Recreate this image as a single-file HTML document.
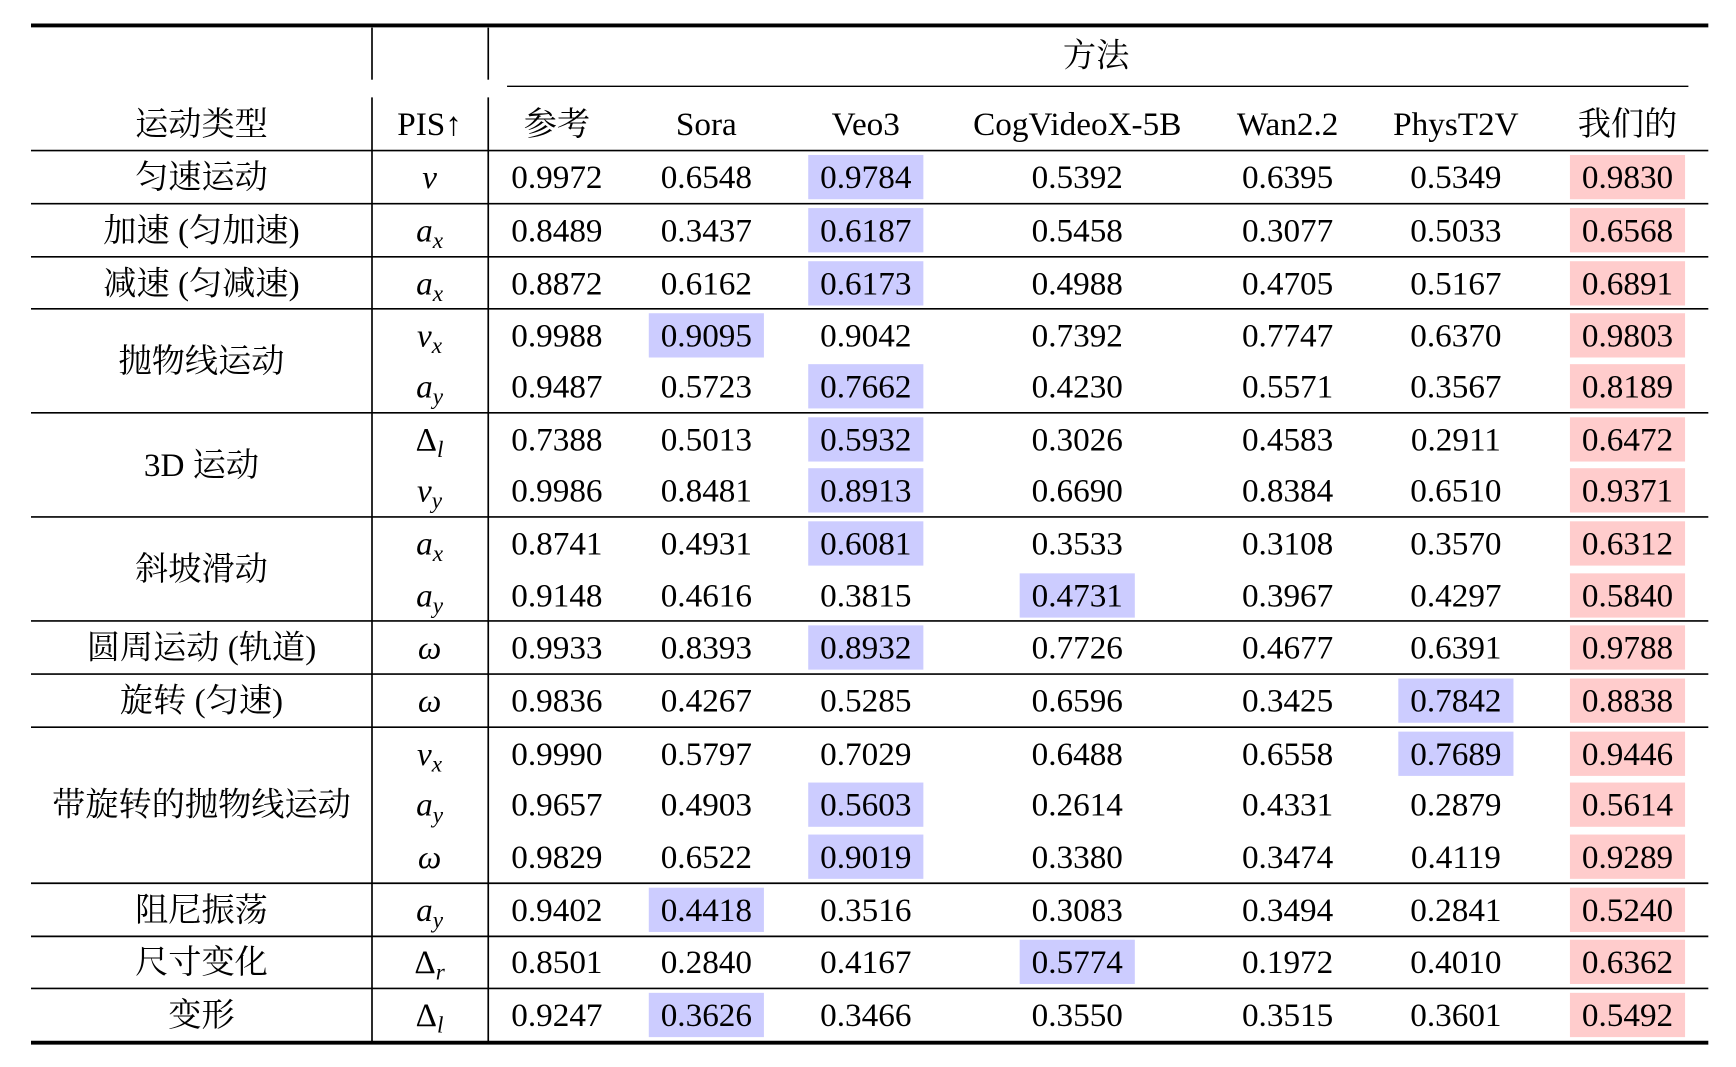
<!DOCTYPE html>
<html><head><meta charset="utf-8"><style>
html,body{margin:0;padding:0;background:#fff;}
svg{display:block;}
text{font-family:"Liberation Serif","Noto Serif CJK SC","Noto Sans CJK SC",serif;font-size:30px;fill:#000;}
.i{font-style:italic;}
.s{font-style:italic;font-size:21px;}
</style></head><body>
<svg width="1736" height="1067" viewBox="0 0 1568 964" preserveAspectRatio="none" xmlns="http://www.w3.org/2000/svg">
<g fill="#ccccff">
<rect x="730" y="140" width="104" height="40"/>
<rect x="730" y="188" width="104" height="40"/>
<rect x="730" y="236" width="104" height="40"/>
<rect x="586" y="283" width="104" height="40"/>
<rect x="730" y="329" width="104" height="40"/>
<rect x="730" y="377" width="104" height="40"/>
<rect x="730" y="423" width="104" height="40"/>
<rect x="730" y="471" width="104" height="40"/>
<rect x="921" y="518" width="104" height="40"/>
<rect x="730" y="565" width="104" height="40"/>
<rect x="1263" y="613" width="104" height="40"/>
<rect x="1263" y="661" width="104" height="40"/>
<rect x="730" y="707" width="104" height="40"/>
<rect x="730" y="754" width="104" height="40"/>
<rect x="586" y="802" width="104" height="40"/>
<rect x="921" y="849" width="104" height="40"/>
<rect x="586" y="897" width="104" height="40"/>
</g>
<g fill="#ffcccc">
<rect x="1418" y="140" width="104" height="40"/>
<rect x="1418" y="188" width="104" height="40"/>
<rect x="1418" y="236" width="104" height="40"/>
<rect x="1418" y="283" width="104" height="40"/>
<rect x="1418" y="329" width="104" height="40"/>
<rect x="1418" y="377" width="104" height="40"/>
<rect x="1418" y="423" width="104" height="40"/>
<rect x="1418" y="471" width="104" height="40"/>
<rect x="1418" y="518" width="104" height="40"/>
<rect x="1418" y="565" width="104" height="40"/>
<rect x="1418" y="613" width="104" height="40"/>
<rect x="1418" y="661" width="104" height="40"/>
<rect x="1418" y="707" width="104" height="40"/>
<rect x="1418" y="754" width="104" height="40"/>
<rect x="1418" y="802" width="104" height="40"/>
<rect x="1418" y="849" width="104" height="40"/>
<rect x="1418" y="897" width="104" height="40"/>
</g>
<g stroke="#000">
<line x1="28" y1="23" x2="1543" y2="23" stroke-width="3.5"/>
<line x1="28" y1="942" x2="1543" y2="942" stroke-width="3.5"/>
<line x1="458" y1="78" x2="1525" y2="78" stroke-width="1.2"/>
<line x1="336" y1="25" x2="336" y2="72" stroke-width="1.5"/>
<line x1="441" y1="25" x2="441" y2="72" stroke-width="1.5"/>
<line x1="336" y1="88" x2="336" y2="941" stroke-width="1.5"/>
<line x1="441" y1="88" x2="441" y2="941" stroke-width="1.5"/>
<g stroke-width="1.5">
<line x1="28" y1="136" x2="1543" y2="136"/>
<line x1="28" y1="184" x2="1543" y2="184"/>
<line x1="28" y1="232" x2="1543" y2="232"/>
<line x1="28" y1="279" x2="1543" y2="279"/>
<line x1="28" y1="373" x2="1543" y2="373"/>
<line x1="28" y1="467" x2="1543" y2="467"/>
<line x1="28" y1="561" x2="1543" y2="561"/>
<line x1="28" y1="609" x2="1543" y2="609"/>
<line x1="28" y1="657" x2="1543" y2="657"/>
<line x1="28" y1="798" x2="1543" y2="798"/>
<line x1="28" y1="846" x2="1543" y2="846"/>
<line x1="28" y1="893" x2="1543" y2="893"/>
</g></g>
<g text-anchor="middle">
<text x="990" y="60">方法</text>
<text x="182" y="122">运动类型</text>
<text x="388" y="122">PIS↑</text>
<text x="503" y="122">参考</text>
<text x="638" y="122">Sora</text>
<text x="782" y="122">Veo3</text>
<text x="973" y="122">CogVideoX-5B</text>
<text x="1163" y="122">Wan2.2</text>
<text x="1315" y="122">PhysT2V</text>
<text x="1470" y="122">我们的</text>

<text x="182" y="170">匀速运动</text>
<text x="182" y="218">加速 (匀加速)</text>
<text x="182" y="266">减速 (匀减速)</text>
<text x="182" y="336">抛物线运动</text>
<text x="182" y="430">3D 运动</text>
<text x="182" y="524">斜坡滑动</text>
<text x="182" y="595">圆周运动 (轨道)</text>
<text x="182" y="643">旋转 (匀速)</text>
<text x="182" y="737">带旋转的抛物线运动</text>
<text x="182" y="832">阻尼振荡</text>
<text x="182" y="879">尺寸变化</text>
<text x="182" y="927">变形</text>

<text x="388" y="170" class="i">v</text>
<text x="388" y="218"><tspan class="i">a</tspan><tspan class="s" dy="6">x</tspan></text>
<text x="388" y="266"><tspan class="i">a</tspan><tspan class="s" dy="6">x</tspan></text>
<text x="388" y="313"><tspan class="i">v</tspan><tspan class="s" dy="6">x</tspan></text>
<text x="388" y="359"><tspan class="i">a</tspan><tspan class="s" dy="6">y</tspan></text>
<text x="388" y="407"><tspan>Δ</tspan><tspan class="s" dy="6">l</tspan></text>
<text x="388" y="453"><tspan class="i">v</tspan><tspan class="s" dy="6">y</tspan></text>
<text x="388" y="501"><tspan class="i">a</tspan><tspan class="s" dy="6">x</tspan></text>
<text x="388" y="548"><tspan class="i">a</tspan><tspan class="s" dy="6">y</tspan></text>
<text x="388" y="595" class="i">ω</text>
<text x="388" y="643" class="i">ω</text>
<text x="388" y="691"><tspan class="i">v</tspan><tspan class="s" dy="6">x</tspan></text>
<text x="388" y="737"><tspan class="i">a</tspan><tspan class="s" dy="6">y</tspan></text>
<text x="388" y="784" class="i">ω</text>
<text x="388" y="832"><tspan class="i">a</tspan><tspan class="s" dy="6">y</tspan></text>
<text x="388" y="879"><tspan>Δ</tspan><tspan class="s" dy="6">r</tspan></text>
<text x="388" y="927"><tspan>Δ</tspan><tspan class="s" dy="6">l</tspan></text>

<text x="503" y="170">0.9972</text><text x="638" y="170">0.6548</text><text x="782" y="170">0.9784</text><text x="973" y="170">0.5392</text><text x="1163" y="170">0.6395</text><text x="1315" y="170">0.5349</text><text x="1470" y="170">0.9830</text>
<text x="503" y="218">0.8489</text><text x="638" y="218">0.3437</text><text x="782" y="218">0.6187</text><text x="973" y="218">0.5458</text><text x="1163" y="218">0.3077</text><text x="1315" y="218">0.5033</text><text x="1470" y="218">0.6568</text>
<text x="503" y="266">0.8872</text><text x="638" y="266">0.6162</text><text x="782" y="266">0.6173</text><text x="973" y="266">0.4988</text><text x="1163" y="266">0.4705</text><text x="1315" y="266">0.5167</text><text x="1470" y="266">0.6891</text>
<text x="503" y="313">0.9988</text><text x="638" y="313">0.9095</text><text x="782" y="313">0.9042</text><text x="973" y="313">0.7392</text><text x="1163" y="313">0.7747</text><text x="1315" y="313">0.6370</text><text x="1470" y="313">0.9803</text>
<text x="503" y="359">0.9487</text><text x="638" y="359">0.5723</text><text x="782" y="359">0.7662</text><text x="973" y="359">0.4230</text><text x="1163" y="359">0.5571</text><text x="1315" y="359">0.3567</text><text x="1470" y="359">0.8189</text>
<text x="503" y="407">0.7388</text><text x="638" y="407">0.5013</text><text x="782" y="407">0.5932</text><text x="973" y="407">0.3026</text><text x="1163" y="407">0.4583</text><text x="1315" y="407">0.2911</text><text x="1470" y="407">0.6472</text>
<text x="503" y="453">0.9986</text><text x="638" y="453">0.8481</text><text x="782" y="453">0.8913</text><text x="973" y="453">0.6690</text><text x="1163" y="453">0.8384</text><text x="1315" y="453">0.6510</text><text x="1470" y="453">0.9371</text>
<text x="503" y="501">0.8741</text><text x="638" y="501">0.4931</text><text x="782" y="501">0.6081</text><text x="973" y="501">0.3533</text><text x="1163" y="501">0.3108</text><text x="1315" y="501">0.3570</text><text x="1470" y="501">0.6312</text>
<text x="503" y="548">0.9148</text><text x="638" y="548">0.4616</text><text x="782" y="548">0.3815</text><text x="973" y="548">0.4731</text><text x="1163" y="548">0.3967</text><text x="1315" y="548">0.4297</text><text x="1470" y="548">0.5840</text>
<text x="503" y="595">0.9933</text><text x="638" y="595">0.8393</text><text x="782" y="595">0.8932</text><text x="973" y="595">0.7726</text><text x="1163" y="595">0.4677</text><text x="1315" y="595">0.6391</text><text x="1470" y="595">0.9788</text>
<text x="503" y="643">0.9836</text><text x="638" y="643">0.4267</text><text x="782" y="643">0.5285</text><text x="973" y="643">0.6596</text><text x="1163" y="643">0.3425</text><text x="1315" y="643">0.7842</text><text x="1470" y="643">0.8838</text>
<text x="503" y="691">0.9990</text><text x="638" y="691">0.5797</text><text x="782" y="691">0.7029</text><text x="973" y="691">0.6488</text><text x="1163" y="691">0.6558</text><text x="1315" y="691">0.7689</text><text x="1470" y="691">0.9446</text>
<text x="503" y="737">0.9657</text><text x="638" y="737">0.4903</text><text x="782" y="737">0.5603</text><text x="973" y="737">0.2614</text><text x="1163" y="737">0.4331</text><text x="1315" y="737">0.2879</text><text x="1470" y="737">0.5614</text>
<text x="503" y="784">0.9829</text><text x="638" y="784">0.6522</text><text x="782" y="784">0.9019</text><text x="973" y="784">0.3380</text><text x="1163" y="784">0.3474</text><text x="1315" y="784">0.4119</text><text x="1470" y="784">0.9289</text>
<text x="503" y="832">0.9402</text><text x="638" y="832">0.4418</text><text x="782" y="832">0.3516</text><text x="973" y="832">0.3083</text><text x="1163" y="832">0.3494</text><text x="1315" y="832">0.2841</text><text x="1470" y="832">0.5240</text>
<text x="503" y="879">0.8501</text><text x="638" y="879">0.2840</text><text x="782" y="879">0.4167</text><text x="973" y="879">0.5774</text><text x="1163" y="879">0.1972</text><text x="1315" y="879">0.4010</text><text x="1470" y="879">0.6362</text>
<text x="503" y="927">0.9247</text><text x="638" y="927">0.3626</text><text x="782" y="927">0.3466</text><text x="973" y="927">0.3550</text><text x="1163" y="927">0.3515</text><text x="1315" y="927">0.3601</text><text x="1470" y="927">0.5492</text>
</g>
</svg>
</body></html>
